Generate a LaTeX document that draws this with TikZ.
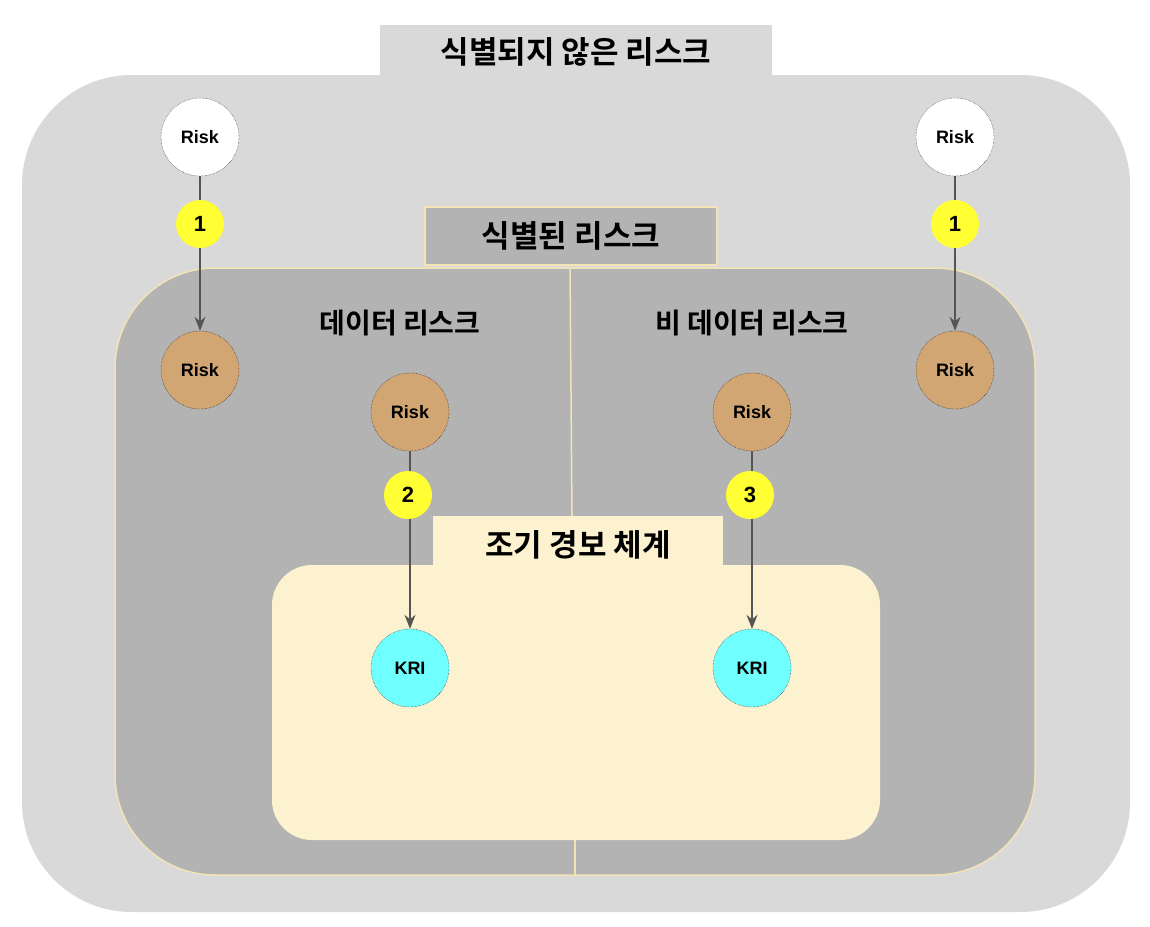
\documentclass[tikz,border=0pt]{standalone}
\usepackage{fontspec}
\setmainfont{Liberation Sans}
\newfontfamily\kr{Noto Sans CJK KR}[BoldFont={Noto Sans CJK KR Bold}]
\usetikzlibrary{arrows.meta}
\definecolor{outerg}{HTML}{D9D9D9}
\definecolor{innerg}{HTML}{B3B3B3}
\definecolor{cream}{HTML}{F3E3B5}
\definecolor{ews}{HTML}{FDF2CF}
\definecolor{brown}{HTML}{D2A673}
\definecolor{kri}{HTML}{70FFFF}
\definecolor{yel}{HTML}{FFFF33}
\definecolor{arr}{HTML}{555555}
\begin{document}
\begin{tikzpicture}[x=1pt,y=-1pt,
  circ/.style={circle,draw=black,densely dotted,minimum size=78pt,inner sep=0pt,font=\fontsize{18}{20}\selectfont\bfseries},
  wrisk/.style={circ,fill=white},
  brisk/.style={circ,fill=brown},
  kric/.style={circ,fill=kri},
  num/.style={circle,fill=yel,minimum size=48pt,inner sep=0pt,font=\fontsize{22}{24}\selectfont\bfseries},
  ttl/.style={font=\kr\fontsize{31}{34}\selectfont\bfseries},
  sub/.style={font=\kr\fontsize{28}{30}\selectfont\bfseries},
  conn/.style={draw=arr,line width=1.3pt,-{Stealth[length=14pt,width=11pt]}}]
\useasboundingbox (0,0) rectangle (1150,926);
\fill[white] (0,0) rectangle (1150,926);
% outer
\fill[outerg,rounded corners=110pt] (22,75) rectangle (1130,912);
\fill[outerg] (380,25) rectangle (772,75);
\node[ttl] (t1) at (576,52) {식별되지 않은 리스크};
% inner
\filldraw[fill=innerg,draw=cream,line width=1.5pt,rounded corners=100pt] (115,268) rectangle (1035,875);
\filldraw[fill=innerg,draw=cream,line width=1.5pt] (425,207) rectangle (717,265);
\node[ttl] (t2) at (571,236) {식별된 리스크};
\draw[cream,line width=1.5pt] (570,268) -- (572,516);
\draw[cream,line width=1.5pt] (575,840) -- (575,875);
% EWS
\fill[ews] (433,516) rectangle (723,566);
\fill[ews,rounded corners=40pt] (272,565) rectangle (880,840);
\node[ttl] (t3) at (578,545) {조기 경보 체계};
\node[sub] (s1) at (400,323) {데이터 리스크};
\node[sub] (s2) at (752,323) {비 데이터 리스크};
% nodes
\node[wrisk] (w1) at (200,137) {Risk};
\node[wrisk] (w2) at (955,137) {Risk};
\node[brisk] (b1) at (200,370) {Risk};
\node[brisk] (b2) at (955,370) {Risk};
\node[brisk] (b3) at (410,412) {Risk};
\node[brisk] (b4) at (752,412) {Risk};
\node[kric] (k1) at (410,668) {KRI};
\node[kric] (k2) at (752,668) {KRI};
\draw[conn] (w1) -- (b1);
\draw[conn] (w2) -- (b2);
\draw[conn] (b3) -- (k1);
\draw[conn] (b4) -- (k2);
\node[num] (n1) at (200,224) {1};
\node[num] (n2) at (955,224) {1};
\node[num] (n3) at (408,495) {2};
\node[num] (n4) at (750,495) {3};
\end{tikzpicture}
\end{document}
